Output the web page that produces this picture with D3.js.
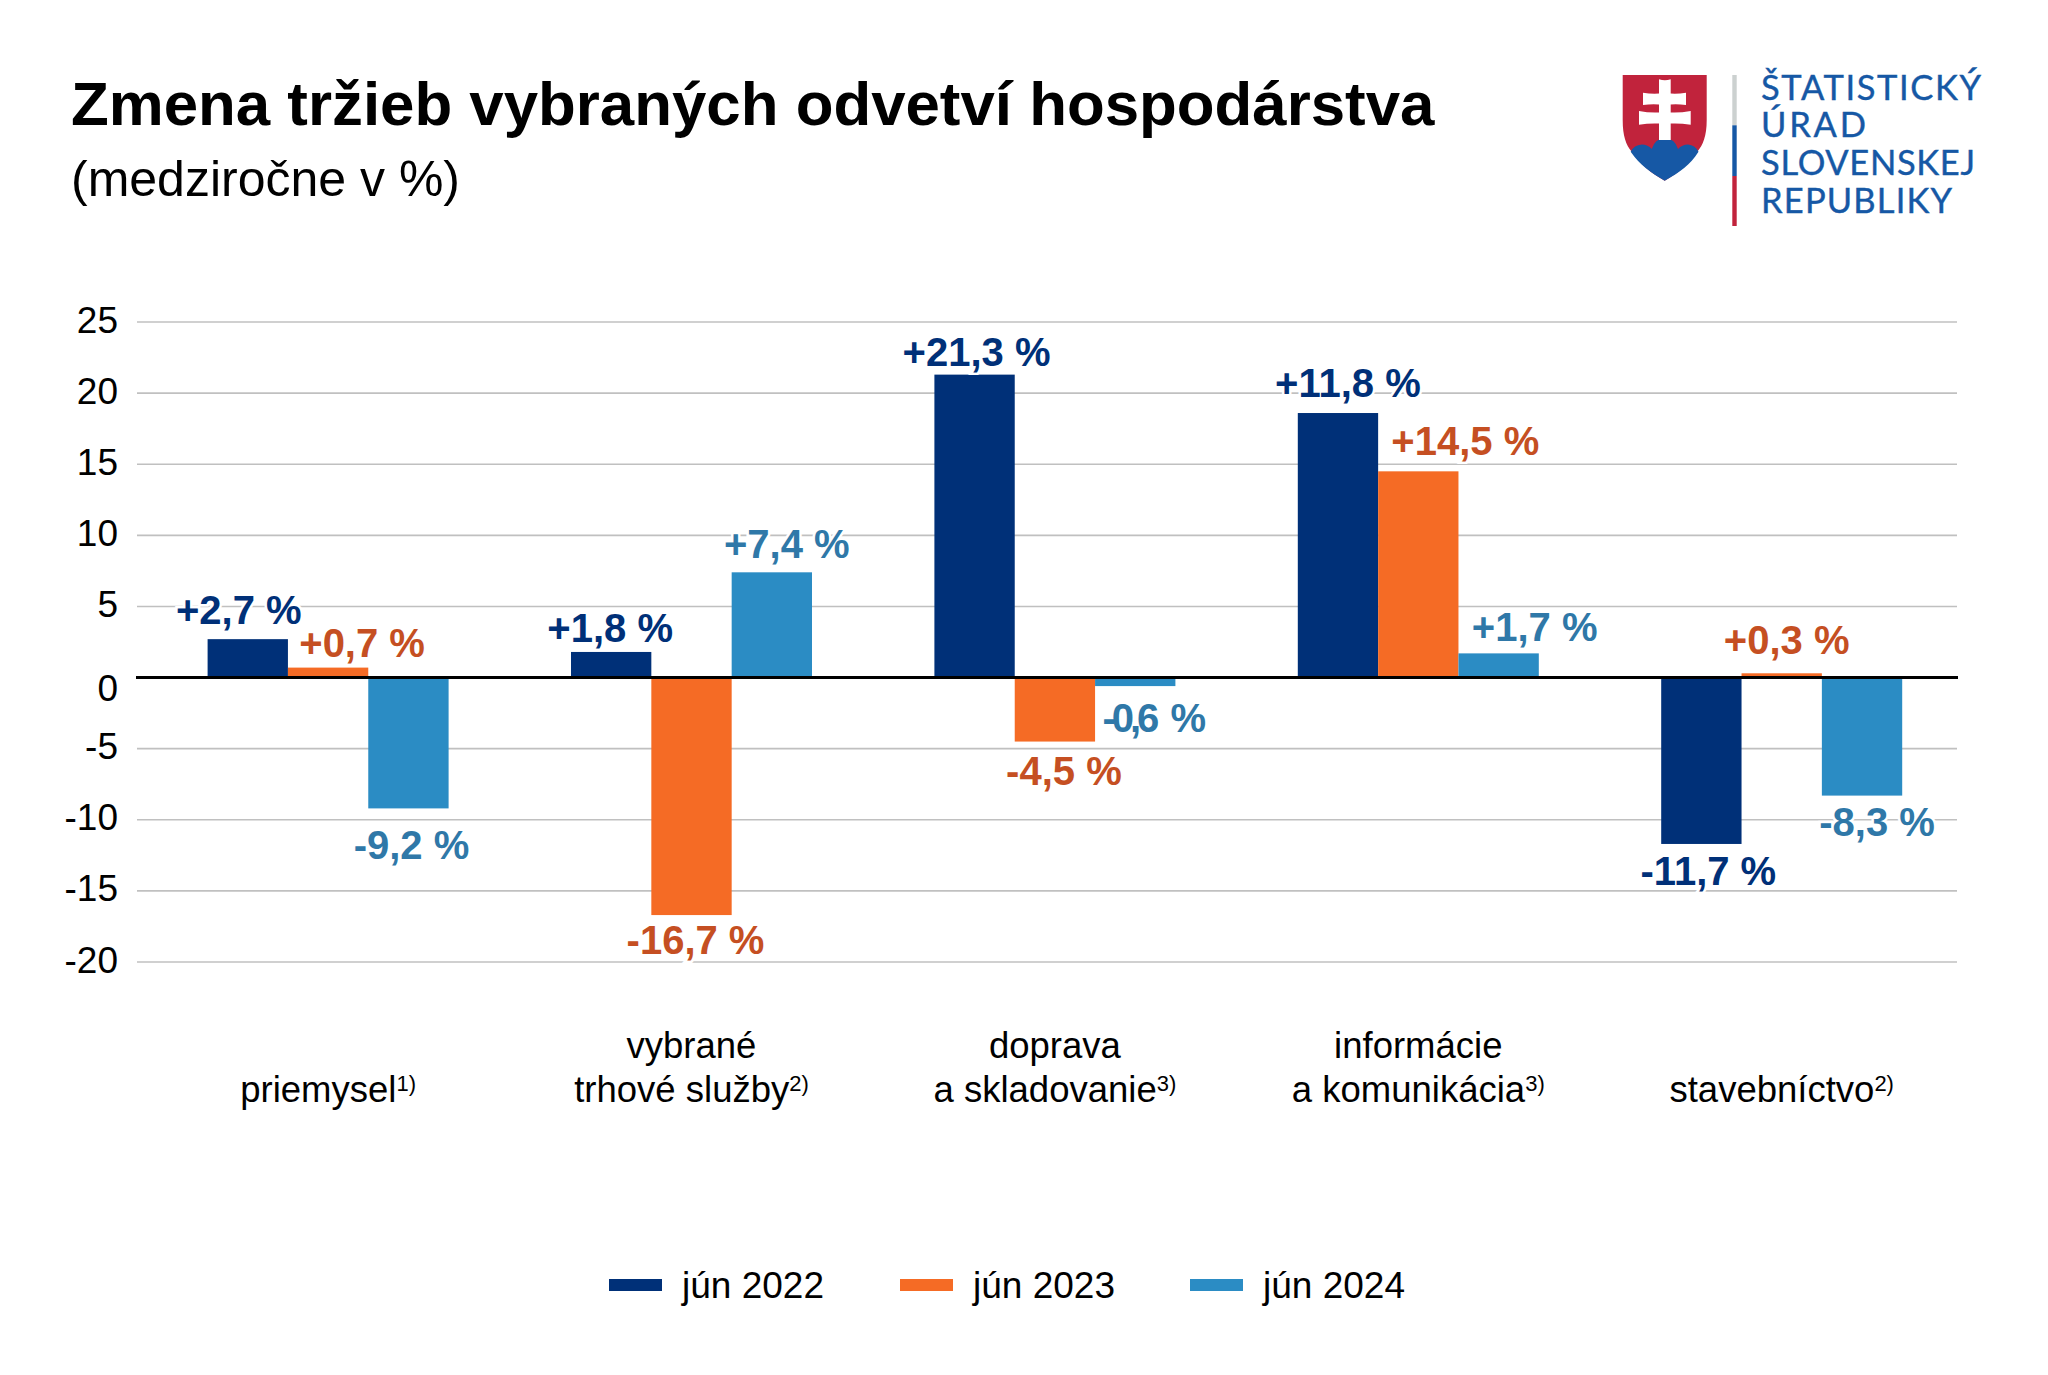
<!DOCTYPE html>
<html><head><meta charset="utf-8">
<script src="https://cdn.jsdelivr.net/npm/d3@7"></script>
<style>html,body{margin:0;padding:0;background:#fff}svg{display:block}text{font-family:"Liberation Sans",Arial,sans-serif}</style>
</head><body><svg id="c" width="2048" height="1375"></svg>
<script>
const categories = [["priemysel","1)"],["vybrané","trhové služby","2)"],["doprava","a skladovanie","3)"],["informácie","a komunikácia","3)"],["stavebníctvo","2)"]];
const seriesNames = ["jún 2022","jún 2023","jún 2024"];
const barColors = ["#003078","#f56b25","#2b8cc4"];
const labelColors = ["#003078","#c54f22","#2f78a8"];
const values2022 = [2.7,1.8,21.3,18.6,-11.7];
const values2023 = [0.7,-16.7,-4.5,14.5,0.3];
const values2024 = [-9.2,7.4,-0.6,1.7,-8.3];
const labels2022 = ["+2,7 %","+1,8 %","+21,3 %","+11,8 %","-11,7 %"];
const labels2023 = ["+0,7 %","-16,7 %","-4,5 %","+14,5 %","+0,3 %"];
const labels2024 = ["-9,2 %","+7,4 %","-0,6 %","+1,7 %","-8,3 %"];
const yTicks = [25,20,15,10,5,0,-5,-10,-15,-20];
const seriesValues=[values2022,values2023,values2024], seriesLabels=[labels2022,labels2023,labels2024];
// label placement relative to the bar end
const nudgeX=[[-9,-1,2,10,7],[34,4,9,47,5],[3,15,19,36,15]];
const nudgeY=[[-15,-10,-9,-16,41],[-11,39,43,-16,-19],[51,-14,46,-12,40]];

const svg=d3.select("#c");
svg.append("rect").attr("width",2048).attr("height",1375).attr("fill","#fff");
svg.append("text").attr("x",71).attr("y",125).attr("font-size",61.8).attr("font-weight",700).attr("fill","#000").text("Zmena tržieb vybraných odvetví hospodárstva");
svg.append("text").attr("x",71).attr("y",196).attr("font-size",50).attr("fill","#000").text("(medziročne v %)");

const y=d3.scaleLinear().domain([-20,25]).range([962,322]);
const x0=d3.scaleBand().domain(d3.range(5)).range([146.4,1963.4]);
const x1=d3.scaleBand().domain(d3.range(3)).range([0,241]);
const gl=137, gr=1957;
svg.append("g").selectAll("line").data(yTicks.filter(d=>d!==0)).join("line")
 .attr("x1",gl).attr("x2",gr).attr("y1",d=>y(d)).attr("y2",d=>y(d)).attr("stroke","#c0c0c0").attr("stroke-width",1.6);
const axis=svg.append("g").attr("transform",`translate(118,0)`).call(d3.axisLeft(y).tickValues(yTicks).tickSize(0).tickPadding(0).tickFormat(d=>String(d)));
axis.select(".domain").remove();
axis.selectAll("text").attr("font-size",37).attr("fill","#000").attr("text-anchor","end").style("font-family",'"Liberation Sans"').attr("dy",d=>d===0?"23":"10");
const bandOff=(x0.bandwidth()-241)/2;
seriesValues.forEach((vals,s)=>{
 svg.append("g").selectAll("rect").data(vals).join("rect")
  .attr("x",(d,i)=>x0(i)+bandOff+x1(s)).attr("width",x1.bandwidth())
  .attr("y",d=>y(Math.max(0,d))).attr("height",d=>Math.abs(y(d)-y(0))).attr("fill",barColors[s]);
});
svg.append("line").attr("x1",136).attr("x2",1958).attr("y1",y(0)).attr("y2",y(0)).attr("stroke","#000").attr("stroke-width",3);
seriesValues.forEach((vals,s)=>{
 svg.append("g").selectAll("text").data(vals).join("text")
  .attr("x",(d,i)=>x0(i)+bandOff+x1(s)+x1.bandwidth()/2+nudgeX[s][i])
  .attr("y",(d,i)=>y(d)+nudgeY[s][i]).attr("text-anchor","middle")
  .attr("font-size",40).attr("font-weight",700).attr("fill",labelColors[s])
  .attr("stroke","#fff").attr("stroke-width",5).attr("paint-order","stroke")
  .each(function(d,i){
    const t=d3.select(this), lab=seriesLabels[s][i];
    if(lab==="-0,6 %"){ t.append("tspan").attr("letter-spacing",-4).text("-0,6"); t.append("tspan").attr("dx",4).text(" %"); }
    else t.text(lab);
  });
});
categories.forEach((c,i)=>{
 const cx=x0(i)+x0.bandwidth()/2, lines=c.slice(0,-1), sup=c[c.length-1];
 lines.forEach((l,k)=>{
  const t=svg.append("text").attr("x",cx).attr("y",1102-(lines.length-1-k)*44).attr("text-anchor","middle").attr("font-size",36.5).attr("fill","#000");
  t.append("tspan").text(l);
  if(k===lines.length-1) t.append("tspan").attr("font-size",22).attr("dy",-11).text(sup);
 });
});
const legX=[609,900,1190];
seriesNames.forEach((n,i)=>{
 svg.append("rect").attr("x",legX[i]).attr("y",1279).attr("width",53).attr("height",12).attr("fill",barColors[i]);
 svg.append("text").attr("x",legX[i]+73).attr("y",1298).attr("font-size",37).attr("fill","#000").text(n);
});
// logo
const logo=svg.append("g");
logo.append("path").attr("d","M1622.700 75H1706.700V120C1706.700 136 1703 145 1697.300 151.700C1688 165 1678 173 1664.700 180.700C1651 173 1641 165 1631.700 151.700C1626 145 1622.700 136 1622.700 120Z").attr("fill","#c1233c");
logo.append("path").attr("d","M1630.700 151.700Q1634 145 1641.700 144.500Q1648 144.500 1651.700 149Q1655 138.500 1664.700 138Q1675 138.500 1678 149Q1682 144.500 1688 144.500Q1695 145 1698.500 151.700C1690 165 1680 172 1664.700 180.700C1650 172 1640 165 1630.700 151.700Z").attr("fill","#1658a5");
logo.append("path").attr("d","M1659 79.300Q1665 81 1670.700 79.300V93.500Q1678 94 1686 92.700V105Q1678 104 1670.700 104.500V112.500Q1680 113 1690.700 111V124.700Q1680 123 1670.700 123.500V140H1659V123.500Q1649 123 1639 124.700V111Q1649 113 1659 112.500V104.500Q1651 104 1643 105V92.700Q1651 94 1659 93.500Z").attr("fill","#fff");
logo.append("rect").attr("x",1732.300).attr("y",75).attr("width",4.4).attr("height",50.300).attr("fill","#ccd1d0");
logo.append("rect").attr("x",1732.300).attr("y",125.300).attr("width",4.4).attr("height",50.700).attr("fill","#1658a5");
logo.append("rect").attr("x",1732.300).attr("y",176).attr("width",4.4).attr("height",50).attr("fill","#c1233c");
const logoLines=["ŠTATISTICKÝ","ÚRAD","SLOVENSKEJ","REPUBLIKY"], logoBase=[100,137,175,213], logoWidth=[220,105,214,191];
logoLines.forEach((t,i)=>{
 logo.append("text").attr("x",1761).attr("y",logoBase[i]).attr("font-size",34.500).style("font-family","Lato").attr("textLength",logoWidth[i]).attr("lengthAdjust","spacing").attr("fill","#1658a5").attr("stroke","#1658a5").attr("stroke-width",0.4).text(t);
});
</script></body></html>
